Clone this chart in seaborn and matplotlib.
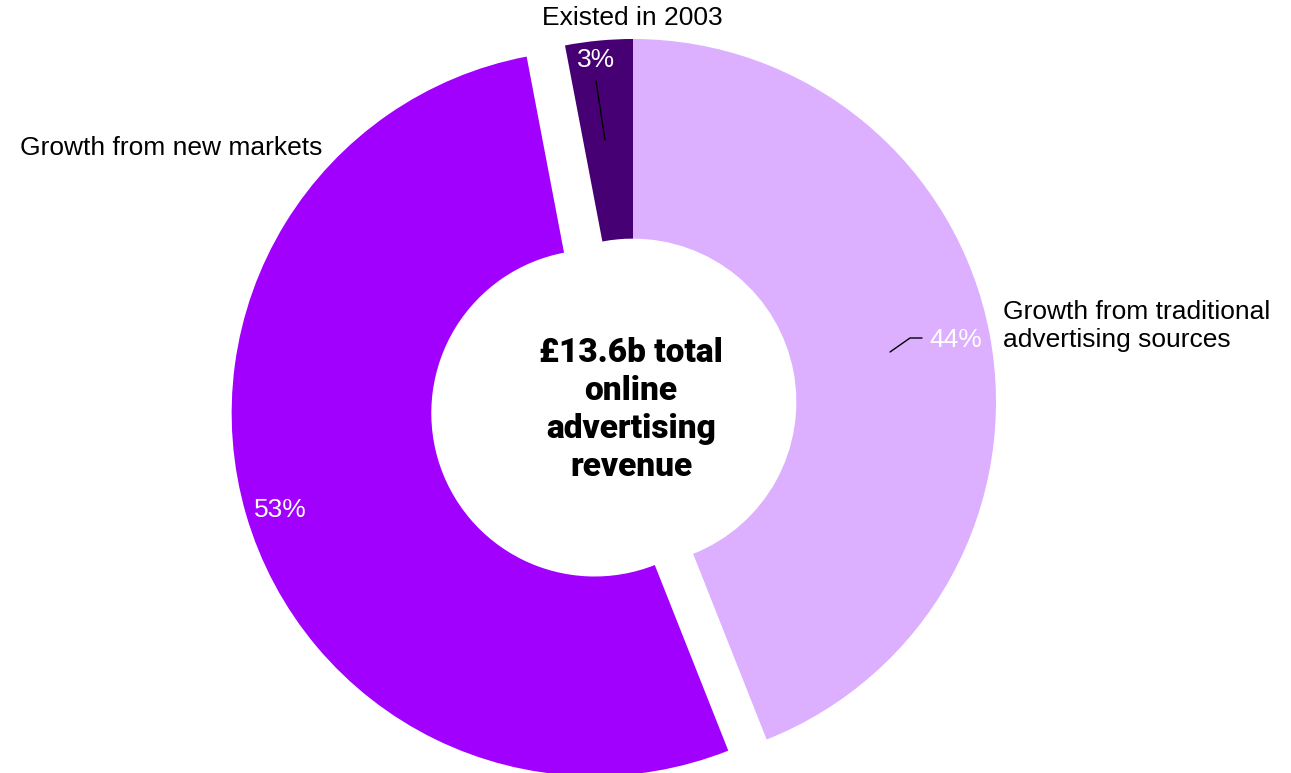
import matplotlib
matplotlib.use("Agg")
import matplotlib.pyplot as plt
import seaborn as sns

# Share of online advertising revenue (%)
segments = ["Growth from traditional\nadvertising sources", "Growth from new markets", "Existed in 2003"]
shares = [44, 53, 3]
colors = ["#DCAFFF", "#A100FF", "#460073"]
explode = [0.0, 0.11, 0.0]
center_title = "£13.6b total\nonline\nadvertising\nrevenue"

sns.set_theme(style="white")
plt.rcParams["font.family"] = ["Liberation Sans", "DejaVu Sans"]

W, H = 1291, 773
fig = plt.figure(figsize=(W / 100, H / 100), dpi=100)
ax = fig.add_axes([0, 0, 1, 1])

cx, cy, R = 633, 402, 363  # pixel centre and outer radius


def to_data(px, py):
    return (px - cx) / R, (cy - py) / R


wedges, _ = ax.pie(
    shares,
    colors=colors,
    explode=explode,
    startangle=90,
    counterclock=False,
    radius=1.0,
    wedgeprops=dict(width=0.55, linewidth=0),
)

ax.set_xlim(-cx / R, (W - cx) / R)
ax.set_ylim(-(H - cy) / R, cy / R)
ax.set_aspect("auto")
ax.axis("off")

fs = 19

# Percentage labels inside the wedges
pct_pos = [to_data(956, 340), to_data(280, 510), to_data(596, 60)]
for v, (x, y) in zip(shares, pct_pos):
    ax.text(x, y, f"{v}%", color="white", fontsize=fs, ha="center", va="center")

# Leader lines
p1, p2, p3 = to_data(890, 352), to_data(910, 338), to_data(922, 338)
ax.plot([p1[0], p2[0], p3[0]], [p1[1], p2[1], p3[1]], color="black", lw=1)
q1, q2 = to_data(596, 81), to_data(605, 140)
ax.plot([q1[0], q2[0]], [q1[1], q2[1]], color="black", lw=1)

# Category labels outside the ring
x, y = to_data(1003, 326)
ax.text(x, y, segments[0], fontsize=fs, ha="left", va="center", linespacing=1.2, color="black")
x, y = to_data(20, 148)
ax.text(x, y, segments[1], fontsize=fs, ha="left", va="center", color="black")
x, y = to_data(632, 18)
ax.text(x, y, segments[2], fontsize=fs, ha="center", va="center", color="black")

# Centre caption
x, y = to_data(631, 410)
ax.text(x, y, center_title, fontsize=24, fontweight=900, family=["Roboto", "DejaVu Sans"],
        ha="center", va="center", linespacing=1.25, color="black")

fig.savefig("out.png", dpi=100, facecolor="white")
